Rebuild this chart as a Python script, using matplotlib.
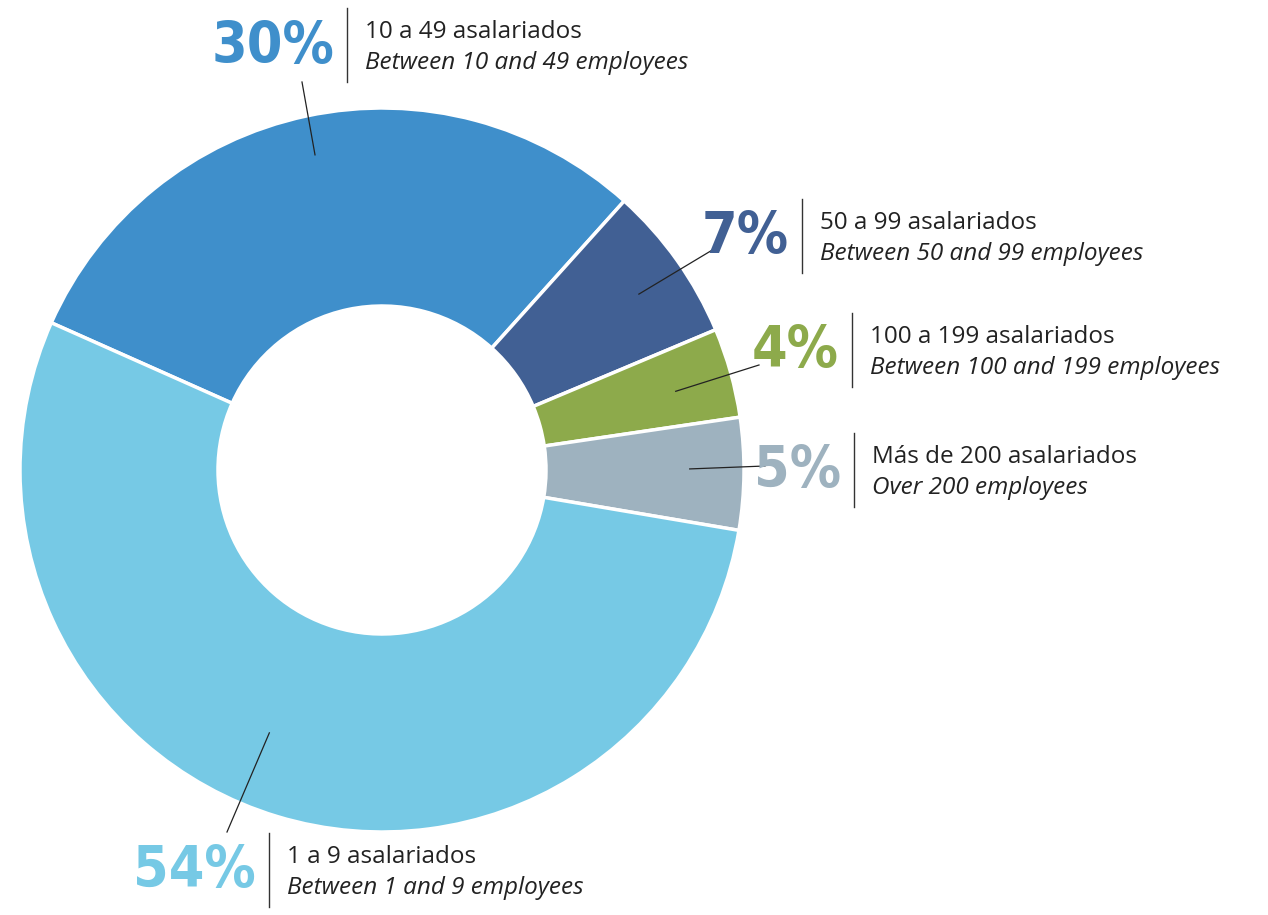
import numpy as np
import matplotlib.pyplot as plt

shares = [30, 7, 4, 5, 54]
pct_labels = ['30%', '7%', '4%', '5%', '54%']
labels_es = ['10 a 49 asalariados', '50 a 99 asalariados', '100 a 199 asalariados',
             'Más de 200 asalariados', '1 a 9 asalariados']
labels_en = ['Between 10 and 49 employees', 'Between 50 and 99 employees',
             'Between 100 and 199 employees', 'Over 200 employees',
             'Between 1 and 9 employees']
colors = ['#3F8FCB', '#416094', '#8DAA4B', '#9EB2BF', '#76C9E5']

W, H = 1268, 915
fig = plt.figure(figsize=(W / 100, H / 100), dpi=100)
ax = fig.add_axes([0, 0, 1, 1])

cx, cy, R = 382, H - 470, 362
wedges, _ = ax.pie(shares, colors=colors, startangle=156, counterclock=False,
                   center=(cx, cy), radius=R, frame=True,
                   wedgeprops=dict(width=198, edgecolor='white', linewidth=2.5))
ax.set_xlim(0, W)
ax.set_ylim(0, H)
ax.set_aspect('equal')
ax.axis('off')

# label layout: x of divider line, y centre (pixels from top), leader end point
layout = [(347, 45, (302, 82)), (802, 236, (714, 249)), (852, 350, (759, 365)),
          (854, 470, (765, 466)), (269, 870, (227, 832))]
lead_r = [0.89, 0.86, 0.84, 0.85, 0.79]
lead_off = [0, -1, -0.6, 0.8, -6.4]

for w, p, es, en, col, (lx, ly, end), lr, off in zip(
        wedges, pct_labels, labels_es, labels_en, colors, layout, lead_r, lead_off):
    ang = np.deg2rad((w.theta1 + w.theta2) / 2 + off)
    sx, sy = cx + R * lr * np.cos(ang), cy + R * lr * np.sin(ang)
    ax.plot([sx, end[0]], [sy, H - end[1]], color='#222222', lw=0.9)
    yc = H - ly
    ax.plot([lx, lx], [yc - 37, yc + 37], color='#333333', lw=1.0)
    ax.text(lx - 13, yc - 2, p, ha='right', va='center', color=col,
            fontsize=41, fontweight='bold', fontstretch='condensed',
            family='DejaVu Sans')
    ax.text(lx + 18, yc + 13, es, ha='left', va='center', color='#222222',
            fontsize=17.5, family='Open Sans')
    ax.text(lx + 18, yc - 18, en, ha='left', va='center', color='#222222',
            fontsize=17.5, family='Open Sans', style='italic')

fig.savefig('out.png', dpi=100, facecolor='white')
